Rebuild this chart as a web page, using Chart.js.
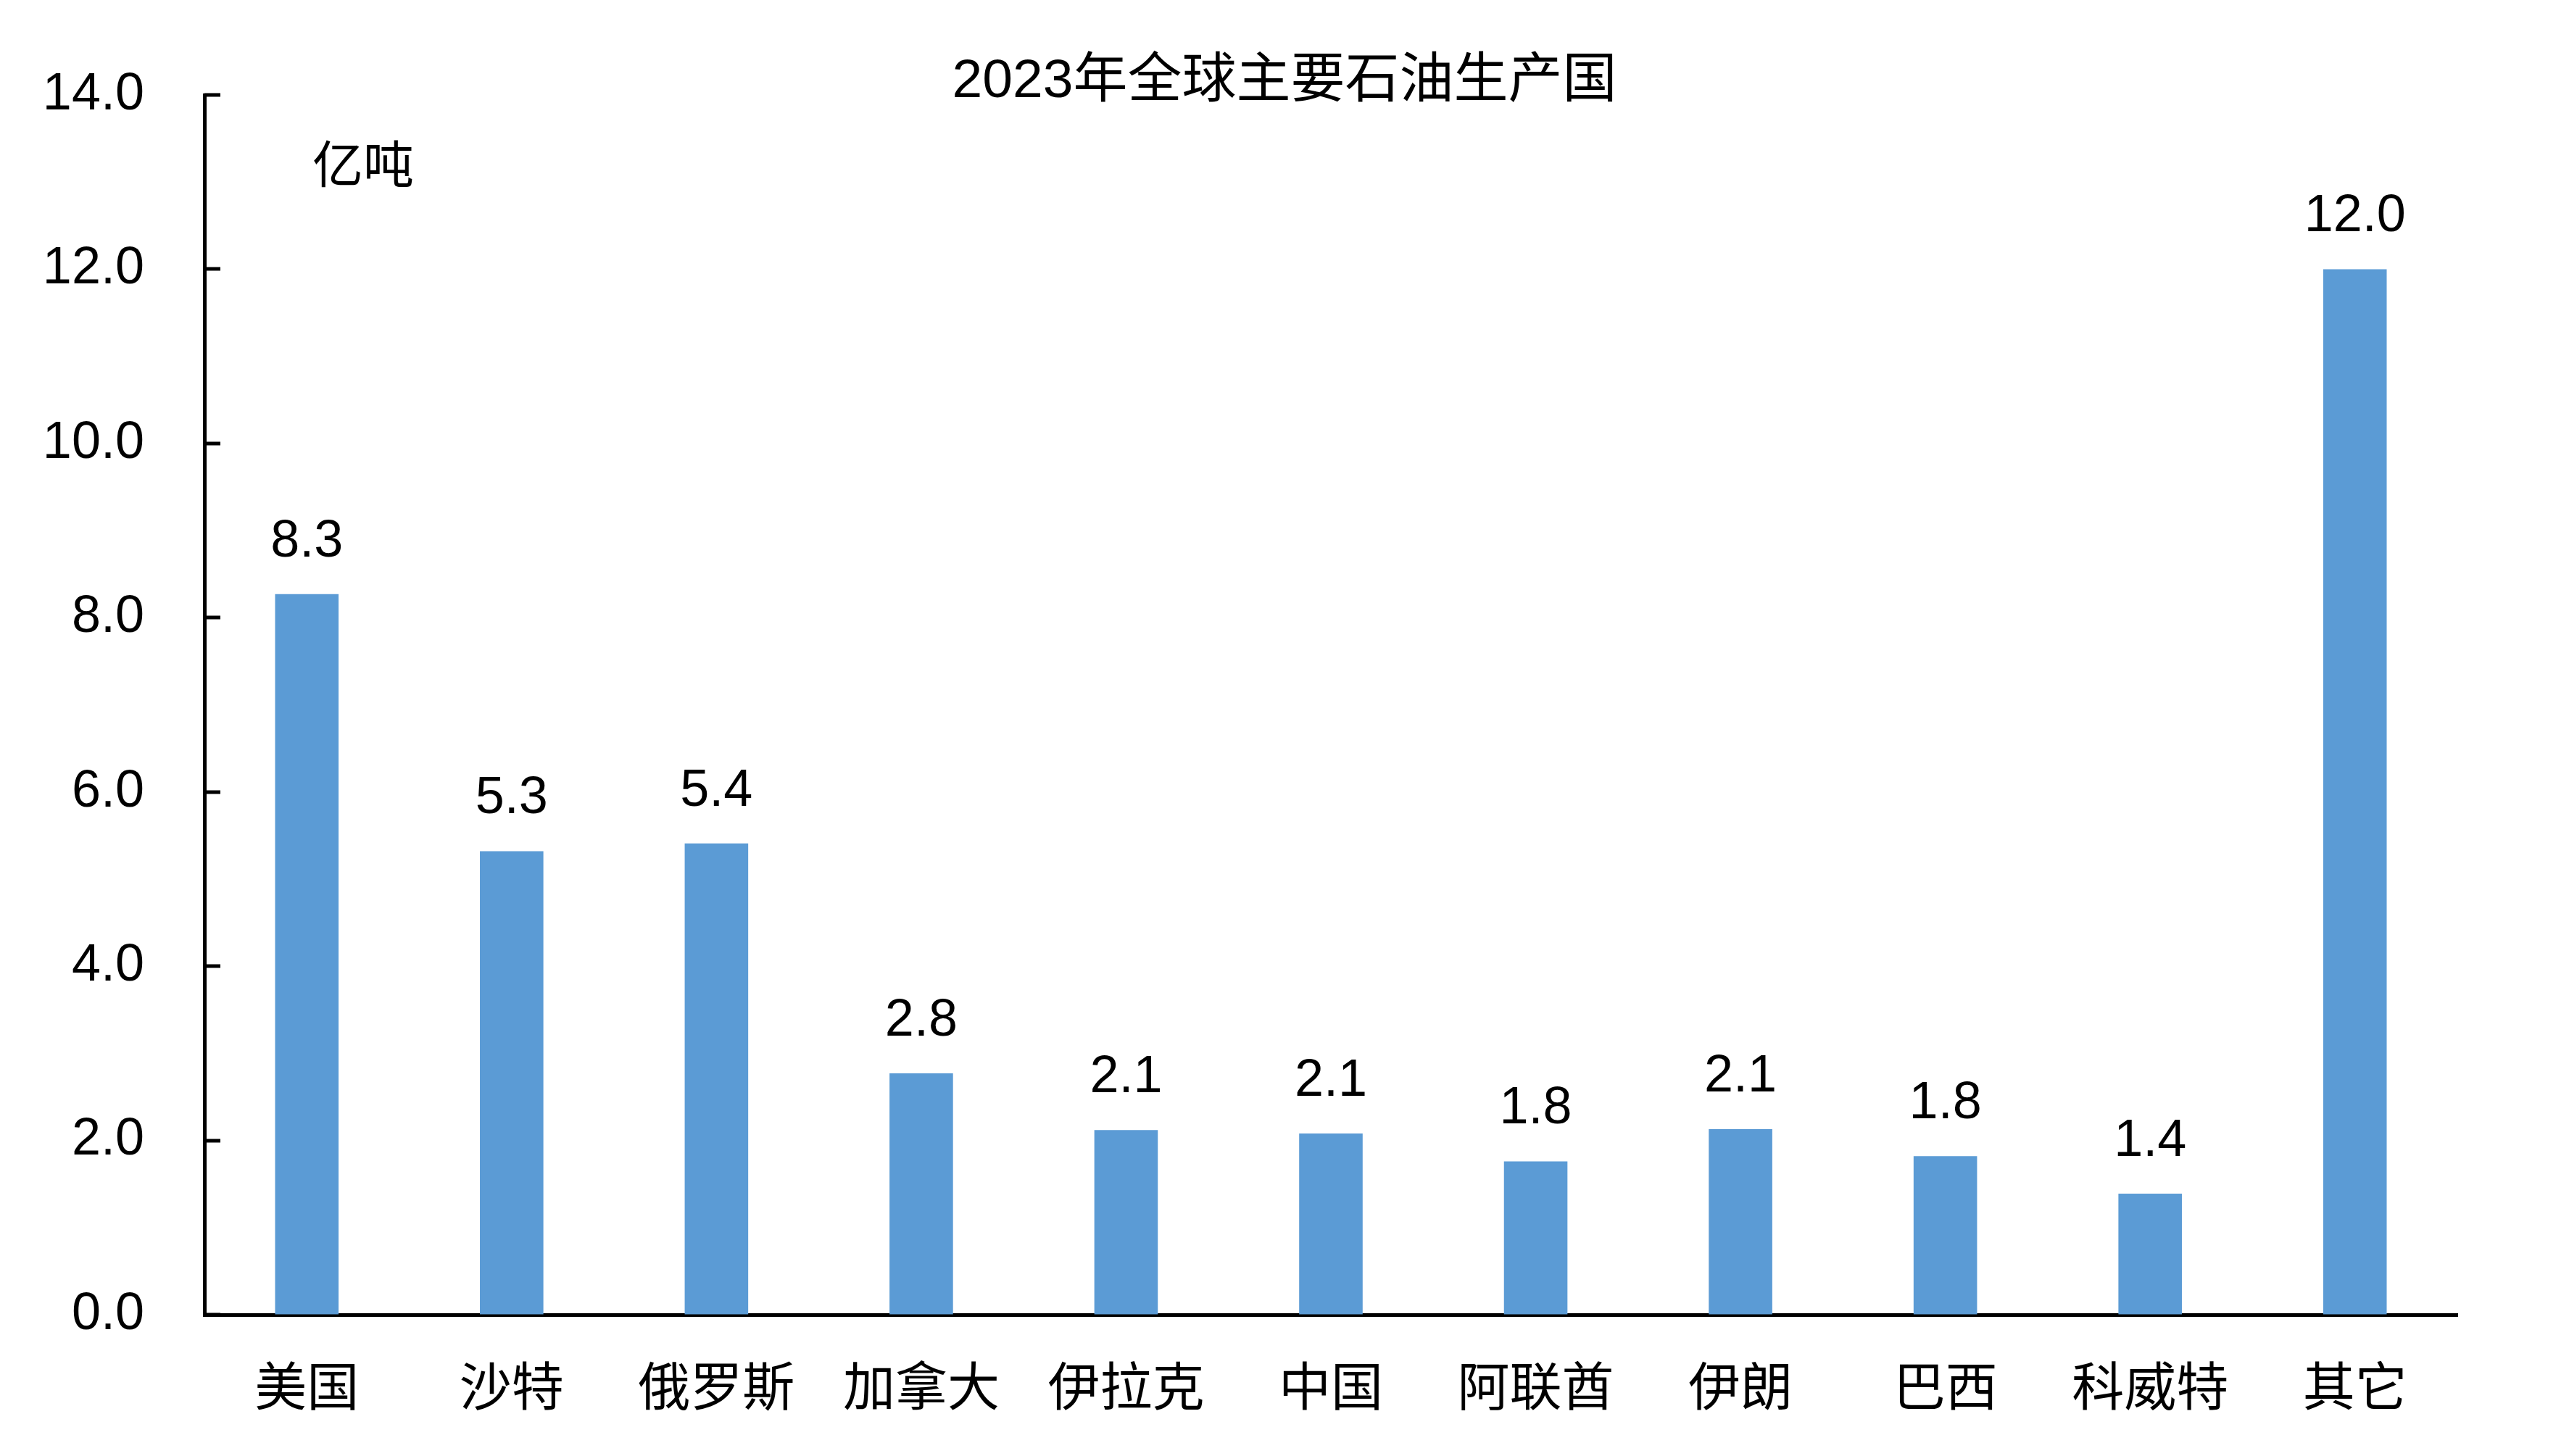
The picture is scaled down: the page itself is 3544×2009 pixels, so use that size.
<!DOCTYPE html>
<html>
<head>
<meta charset="utf-8">
<script src="https://cdn.jsdelivr.net/npm/chart.js@4/dist/chart.umd.min.js"></script>
<style>
  html, body { margin: 0; padding: 0; background: #fff; }
  #wrap { width: 3544px; height: 2009px; }
</style>
</head>
<body>
<div id="wrap"><canvas id="oil-chart" width="3544" height="2009"></canvas></div>
<script>
const countries = ['美国', '沙特', '俄罗斯', '加拿大', '伊拉克', '中国', '阿联酋', '伊朗', '巴西', '科威特', '其它'];
const output = [8.27, 5.32, 5.41, 2.77, 2.12, 2.08, 1.76, 2.13, 1.82, 1.39, 12.0];
const yTicks = [0, 2, 4, 6, 8, 10, 12, 14];
const chartTitle = '2023年全球主要石油生产国';
const unitLabel = '亿吨';

const latin = '"Liberation Sans", Arial, sans-serif';
const cjk = '"Noto Sans CJK SC", sans-serif';

// title centred on the whole canvas, inward tick marks, unit text
const extras = {
  id: 'extras',
  afterDraw(chart) {
    const ctx = chart.ctx;
    const y = chart.scales.y;
    const area = chart.chartArea;
    ctx.save();
    ctx.strokeStyle = '#000';
    ctx.lineWidth = 5;
    yTicks.forEach(v => {
      const py = Math.round(y.getPixelForValue(v));
      ctx.beginPath();
      ctx.moveTo(area.left, py);
      ctx.lineTo(area.left + 22, py);
      ctx.stroke();
    });
    ctx.fillStyle = '#000';
    ctx.textAlign = 'center';
    ctx.textBaseline = 'middle';
    ctx.font = '75px "Liberation Sans", "Noto Sans CJK SC", sans-serif';
    ctx.fillText(chartTitle, chart.width / 2, 113);
    ctx.font = '70px ' + cjk;
    ctx.fillText(unitLabel, 501, 226);
    ctx.restore();
  }
};

// value labels above each bar
const barValues = {
  id: 'barValues',
  afterDatasetsDraw(chart) {
    const ctx = chart.ctx;
    const meta = chart.getDatasetMeta(0);
    ctx.save();
    ctx.fillStyle = '#000';
    ctx.font = '72px ' + latin;
    ctx.textAlign = 'center';
    ctx.textBaseline = 'alphabetic';
    meta.data.forEach((bar, i) => {
      ctx.fillText(output[i].toFixed(1), bar.x, bar.y - 52);
    });
    ctx.restore();
  }
};

const config = {
  type: 'bar',
  data: {
    labels: countries,
    datasets: [{
      data: output,
      backgroundColor: '#5B9BD5',
      borderWidth: 0,
      barPercentage: 0.31,
      categoryPercentage: 1.0,
    }]
  },
  options: {
    responsive: false,
    animation: false,
    layout: { padding: { left: 0, right: 154, top: 131, bottom: 0 } },
    plugins: {
      legend: { display: false },
      tooltip: { enabled: false },
      title: { display: false },
    },
    scales: {
      x: {
        grid: { display: true, drawOnChartArea: false, drawTicks: false },
        border: { display: true, color: '#000', width: 5 },
        ticks: {
          color: '#000',
          padding: 54,
          font: { family: cjk, size: 72 },
          maxRotation: 0,
          autoSkip: false,
        },
        afterFit(scale) { scale.height = 195; },
      },
      y: {
        min: 0,
        max: 14,
        grid: { display: true, drawOnChartArea: false, drawTicks: false },
        border: { display: true, color: '#000', width: 5 },
        ticks: {
          stepSize: 2,
          color: '#000',
          padding: 83,
          font: { family: latin, size: 72 },
          callback: v => Number(v).toFixed(1),
        },
        afterFit(scale) { scale.width = 282; },
      }
    }
  },
  plugins: [extras, barValues]
};

new Chart(document.getElementById('oil-chart'), config);
</script>
</body>
</html>
